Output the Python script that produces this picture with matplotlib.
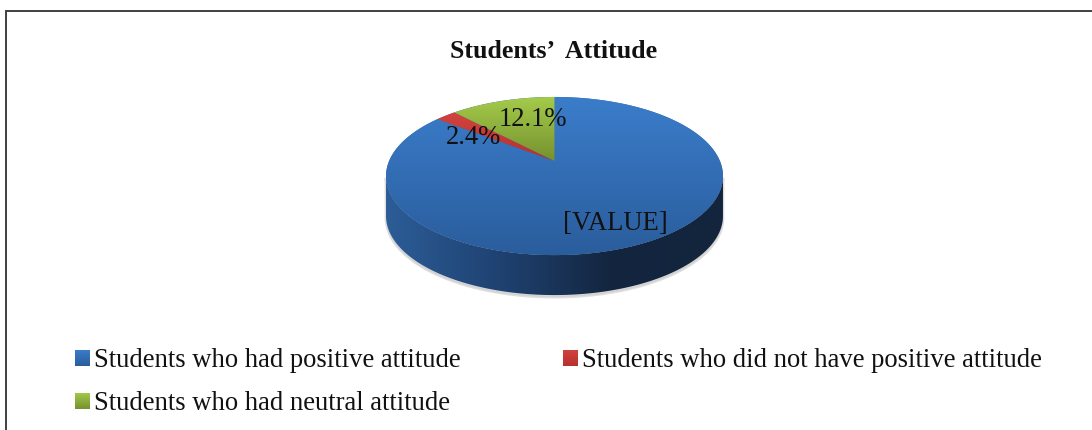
import numpy as np
import matplotlib
matplotlib.use("Agg")
import matplotlib.pyplot as plt
from matplotlib.colors import LinearSegmentedColormap
from matplotlib.patches import Patch, Polygon

# Dados
titulo = "Students\u2019  Attitude"
categorias = ["Students who had positive attitude",
              "Students who did not have positive attitude",
              "Students who had neutral attitude"]
valores = [85.5, 2.4, 12.1]
rotulos = ["[VALUE]", "2.4%", "12.1%"]
cores_topo = [("#3B7DCB", "#2A5D9C"), ("#D2433E", "#B8302D"), ("#A5CC4B", "#76912F")]

plt.rcParams['font.family'] = ['Liberation Serif', 'DejaVu Serif']

fig = plt.figure(figsize=(10.92, 4.30), dpi=100)
ax = fig.add_axes([0, 0, 1, 1])
ax.axis('off')


def gradiente(cores, extent, clip, horizontal=False):
    cmap = LinearSegmentedColormap.from_list("g", cores)
    grad = np.linspace(0, 1, 256)
    grad = grad.reshape(1, -1) if horizontal else grad.reshape(-1, 1)
    im = ax.imshow(grad, cmap=cmap, extent=extent, aspect='auto', origin='upper',
                   interpolation='bilinear', zorder=2)
    im.set_clip_path(clip)


def projeta(angulo):
    # circulo em perspectiva: angulo em graus, sentido anti-horario a partir do topo
    t = np.radians(angulo)
    u, v = -np.sin(t), np.cos(t)
    d = 1 + 0.19 * v
    return 554.5 + 165.4 * u / d, 161 - 76.2 * v / d


# Lateral da pizza
profundidade = 40
ang_baixo = np.linspace(-90, 90, 300) + 180
xb, yb = projeta(ang_baixo)
esq = np.argmin(xb)
dir_ = np.argmax(xb)
ini, fim = sorted([esq, dir_])
xb, yb = xb[ini:fim + 1], yb[ini:fim + 1]
lateral = np.column_stack([np.r_[xb, xb[::-1]], np.r_[yb, yb[::-1] + profundidade]])

sombra = Polygon(lateral + [0, 2], closed=True, fc="#C9C9C9", ec="#C9C9C9", lw=2, alpha=0.6, zorder=1)
ax.add_patch(sombra)
clip_lat = Polygon(lateral, closed=True, transform=ax.transData, fc='none', ec='none')
ax.add_patch(clip_lat)
gradiente(["#2C5D97", "#1F4272", "#14263F", "#13243D"], (386, 723, 296, 170), clip_lat, horizontal=True)

# Fundo do topo, evita emenda clara entre as fatias
xt, yt = projeta(np.linspace(0, 360, 600))
ax.add_patch(Polygon(np.column_stack([xt, yt]), closed=True, fc="#2F69AE", ec='none', zorder=1.5))

# Fatias do topo: azul vai do lado vermelho ate o topo, no sentido horario
inicio = {2: 0, 1: valores[2], 0: valores[2] + valores[1]}
for i in [0, 1, 2]:
    a0 = inicio[i] * 3.6
    a1 = (inicio[i] + valores[i]) * 3.6
    angs = np.linspace(a0, a1, 400)
    xs, ys = projeta(angs)
    pts = np.column_stack([np.r_[554.5, xs], np.r_[161, ys]])
    fatia = Polygon(pts, closed=True, transform=ax.transData, fc='none', ec='none')
    ax.add_patch(fatia)
    y_min, y_max = pts[:, 1].min(), pts[:, 1].max()
    gradiente(cores_topo[i], (pts[:, 0].min(), pts[:, 0].max(), y_max, y_min), fatia)

# Rotulos das fatias
ax.text(615, 224, rotulos[0], fontsize=19.2, ha='center', va='center', color='#111111', zorder=5)
ax.text(473.5, 138, rotulos[1], fontsize=19.2, ha='center', va='center', color='#111111', zorder=5)
ax.text(533, 120, rotulos[2], fontsize=19.2, ha='center', va='center', color='#111111', zorder=5)

ax.text(553.5, 51, titulo, fontsize=18.6, fontweight='bold', ha='center', va='center', color='#111111')

# Moldura: so aparecem os lados esquerdo e superior
ax.plot([6, 6, 1092], [430, 11, 11], color='#404040', lw=1.4, solid_joinstyle='miter', zorder=6)

# Legenda (ordem das colunas: primeira coluna tem duas entradas)
ordem = [0, 2, 1]
handles = [Patch(fc=cores_topo[i][0], ec='none', label=categorias[i]) for i in ordem]
leg = ax.legend(handles=handles, ncol=2, frameon=False, fontsize=19.2, loc='upper left',
                bbox_to_anchor=(75 / 1092, 1 - 348 / 430), borderaxespad=0, borderpad=0,
                handlelength=0.55, handleheight=0.55, handletextpad=0.16,
                columnspacing=3.85, labelspacing=0.68, labelcolor='#111111')
leg.set_zorder(5)

# Amostras da legenda com o mesmo gradiente das fatias
fig.canvas.draw()
for h, i in zip(leg.legend_handles, ordem):
    bb = h.get_window_extent()
    h.set_visible(False)
    caixa = Polygon([[bb.x0, 430 - bb.y0], [bb.x1, 430 - bb.y0], [bb.x1, 430 - bb.y1], [bb.x0, 430 - bb.y1]],
                    closed=True, transform=ax.transData, fc='none', ec='none')
    ax.add_patch(caixa)
    gradiente(cores_topo[i], (bb.x0, bb.x1, 430 - bb.y0, 430 - bb.y1), caixa)

ax.set_xlim(0, 1092)
ax.set_ylim(430, 0)
fig.savefig("out.png", dpi=100)
